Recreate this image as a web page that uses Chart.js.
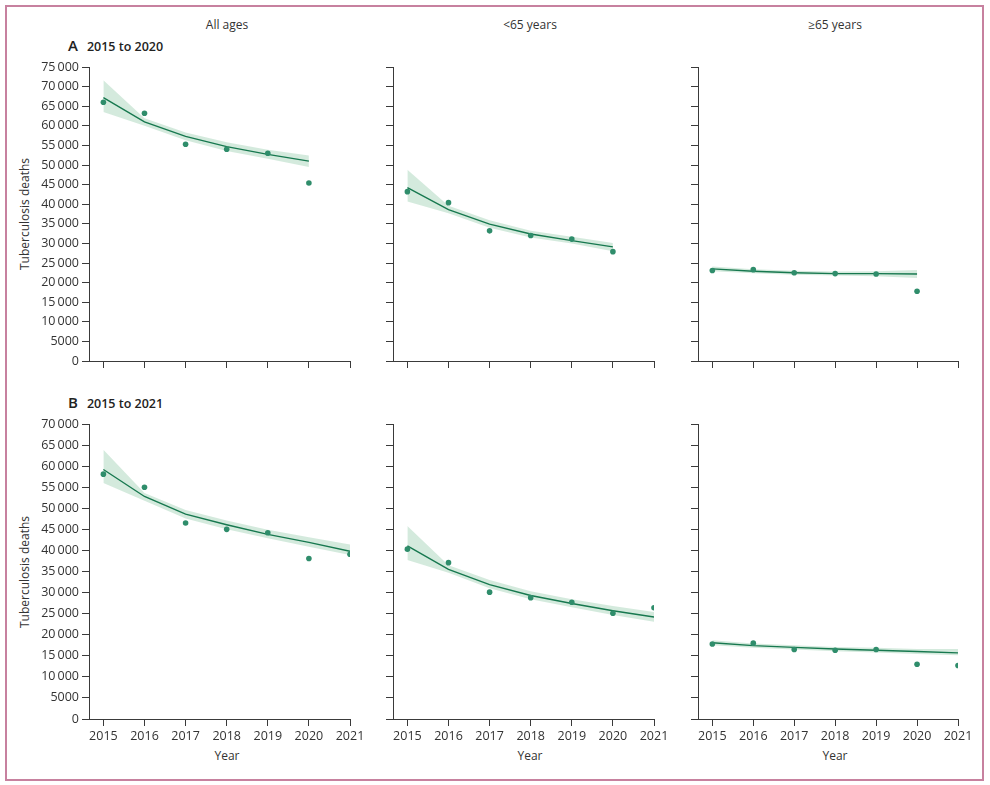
<!DOCTYPE html>
<html>
<head>
<meta charset="utf-8">
<script src="https://cdn.jsdelivr.net/npm/chart.js@4.4.1/dist/chart.umd.min.js"></script>
<style>
  html, body { margin:0; padding:0; background:#fff; }
  body { width:990px; height:785px; position:relative; overflow:hidden; font-family:'Open Sans', sans-serif; color:#333; }
  #frame { position:absolute; left:5px; top:5px; width:979px; height:776px; box-sizing:border-box; border:2px solid #c7819f; }
  .box { position:absolute; }
  .txt { position:absolute; white-space:nowrap; font-size:12px; color:#333; }
  .colhead { transform:translateX(-50%); }
  .ylab { transform:translate(-50%,-50%) rotate(-90deg); font-size:12px; }
  .panel { position:absolute; font-weight:600; font-size:12.5px; color:#222; }
  .panel b { font-size:15px; font-weight:600; margin-right:9px; }
</style>
</head>
<body>
<div id="frame"></div>

<div class="txt colhead" style="left:227px; top:16px;">All ages</div>
<div class="txt colhead" style="left:530px; top:16px;">&lt;65 years</div>
<div class="txt colhead" style="left:835px; top:16px;">≥65 years</div>

<div class="panel" style="left:68px; top:35px;"><b>A</b>2015 to 2020</div>
<div class="panel" style="left:68px; top:392px;"><b>B</b>2015 to 2021</div>

<div class="txt ylab" style="left:24px; top:214px;">Tuberculosis deaths</div>
<div class="txt ylab" style="left:24px; top:572px;">Tuberculosis deaths</div>

<div class="txt colhead" style="left:227px; top:747px;">Year</div>
<div class="txt colhead" style="left:530px; top:747px;">Year</div>
<div class="txt colhead" style="left:835px; top:747px;">Year</div>

<div id="charts"></div>

<script>
// ---------- data ----------
const yearsA = [2015, 2016, 2017, 2018, 2019, 2020];
const yearsB = [2015, 2016, 2017, 2018, 2019, 2020, 2021];
const xTickYears = [2015, 2016, 2017, 2018, 2019, 2020, 2021];
const yTicksA = [0, 5000, 10000, 15000, 20000, 25000, 30000, 35000, 40000, 45000, 50000, 55000, 60000, 65000, 70000, 75000];
const yTicksB = [0, 5000, 10000, 15000, 20000, 25000, 30000, 35000, 40000, 45000, 50000, 55000, 60000, 65000, 70000];

// Panel A: 2015 to 2020
const aAllObs = [66000, 63200, 55300, 54000, 53000, 45400];
const aAllFit = [67200, 61000, 57300, 54700, 52700, 51000];
const aAllLo  = [63500, 60000, 56300, 53600, 51600, 49500];
const aAllHi  = [71600, 61900, 58300, 55800, 53900, 52400];

const aU65Obs = [43200, 40400, 33200, 32000, 31100, 27900];
const aU65Fit = [44200, 38600, 34900, 32400, 30700, 29100];
const aU65Lo  = [40700, 37700, 34000, 31500, 30000, 28000];
const aU65Hi  = [48800, 39600, 35900, 33200, 31700, 30100];

const aO65Obs = [23100, 23300, 22500, 22300, 22200, 17800];
const aO65Fit = [23500, 22900, 22500, 22300, 22300, 22200];
const aO65Lo  = [22900, 22400, 22000, 21800, 21600, 21200];
const aO65Hi  = [24100, 23400, 23000, 22800, 22900, 23200];

// Panel B: 2015 to 2021
const bAllObs = [58100, 55000, 46500, 45000, 44200, 38100, 39100];
const bAllFit = [59200, 52800, 48600, 46100, 43800, 41900, 39800];
const bAllLo  = [56000, 51800, 47600, 45000, 42900, 40900, 38900];
const bAllHi  = [63900, 53600, 49600, 47100, 44900, 43100, 41400];

const bU65Obs = [40300, 37100, 30100, 28800, 27700, 25100, 26400];
const bU65Fit = [41100, 35500, 31900, 29300, 27400, 25700, 24200];
const bU65Lo  = [37700, 34700, 31000, 28400, 26500, 24700, 23100];
const bU65Hi  = [45800, 36500, 33000, 30300, 28400, 26800, 25400];

const bO65Obs = [17800, 18000, 16500, 16300, 16500, 13000, 12700];
const bO65Fit = [18100, 17400, 17000, 16600, 16300, 16000, 15700];
const bO65Lo  = [17500, 16900, 16500, 16100, 15800, 15400, 15100];
const bO65Hi  = [18700, 17900, 17500, 17100, 16900, 16600, 16600];

// ---------- styles ----------
const LINE = '#17784f';
const DOT = '#2f8d6b';
const BAND = 'rgba(120,190,150,0.32)';
const AXIS = '#3a3a3a';
const FONT = { family: "'Open Sans', sans-serif", size: 12.5 };

function fmt(v) {
  if (v >= 10000) {
    const s = String(v);
    return s.slice(0, s.length - 3) + '\u2009' + s.slice(s.length - 3);
  }
  return String(v);
}

function pts(xs, ys) { return xs.map((x, i) => ({ x: x, y: ys[i] })); }

const PADL = 70, PADT = 10, PADR = 24, PADB = 40;

function makePanel(cfg) {
  const w = cfg.right - cfg.left, h = cfg.bottom - cfg.top;
  const div = document.createElement('div');
  div.className = 'box';
  div.style.left = (cfg.left - PADL) + 'px';
  div.style.top = (cfg.top - PADT) + 'px';
  div.style.width = (w + PADL + PADR) + 'px';
  div.style.height = (h + PADT + PADB) + 'px';
  const cv = document.createElement('canvas');
  div.appendChild(cv);
  document.getElementById('charts').appendChild(div);

  new Chart(cv, {
    type: 'line',
    data: {
      datasets: [
        { data: pts(cfg.years, cfg.hi), borderWidth: 0, pointRadius: 0, backgroundColor: BAND, fill: '+1', order: 3 },
        { data: pts(cfg.years, cfg.lo), borderWidth: 0, pointRadius: 0, backgroundColor: BAND, fill: false, order: 3 },
        { data: pts(cfg.years, cfg.fit), borderColor: LINE, borderWidth: 1.4, pointRadius: 0, fill: false, tension: 0, order: 2 },
        { data: pts(cfg.years, cfg.obs), showLine: false, pointRadius: 2.8, pointBackgroundColor: DOT, pointBorderWidth: 0, order: 1 }
      ]
    },
    options: {
      responsive: true,
      maintainAspectRatio: false,
      animation: false,
      events: [],
      layout: { padding: { top: PADT, right: PADR, left: 0, bottom: 0 } },
      plugins: { legend: { display: false }, tooltip: { enabled: false } },
      scales: {
        x: {
          type: 'linear',
          min: 2014.65, max: 2021,
          afterBuildTicks: s => { s.ticks = xTickYears.map(v => ({ value: v })); },
          afterFit: s => { s.height = PADB; s.paddingRight = 0; s.paddingLeft = 0; },
          grid: { drawOnChartArea: false, drawTicks: true, tickLength: 7, tickColor: AXIS, lineWidth: 1 },
          border: { display: true, color: AXIS, width: 1 },
          ticks: { display: cfg.showX, color: '#333', font: FONT, padding: 3, maxRotation: 0, autoSkip: false, callback: v => String(v) }
        },
        y: {
          type: 'linear',
          min: 0, max: cfg.yTicks[cfg.yTicks.length - 1],
          afterBuildTicks: s => { s.ticks = cfg.yTicks.map(v => ({ value: v })); },
          afterFit: s => { s.width = PADL; s.paddingTop = 0; s.paddingBottom = 0; },
          grid: { drawOnChartArea: false, drawTicks: true, tickLength: 7, tickColor: AXIS, lineWidth: 1 },
          border: { display: true, color: AXIS, width: 1 },
          ticks: { display: cfg.showY, color: '#333', font: FONT, padding: 3, autoSkip: false, callback: v => fmt(v) }
        }
      }
    }
  });
}

const colsX = [[89, 350], [393, 654], [698, 958]];
const rowA = [67, 361], rowB = [424, 719];

const panels = [
  { col: 0, row: rowA, years: yearsA, obs: aAllObs, fit: aAllFit, lo: aAllLo, hi: aAllHi, yTicks: yTicksA, showX: false },
  { col: 1, row: rowA, years: yearsA, obs: aU65Obs, fit: aU65Fit, lo: aU65Lo, hi: aU65Hi, yTicks: yTicksA, showX: false },
  { col: 2, row: rowA, years: yearsA, obs: aO65Obs, fit: aO65Fit, lo: aO65Lo, hi: aO65Hi, yTicks: yTicksA, showX: false },
  { col: 0, row: rowB, years: yearsB, obs: bAllObs, fit: bAllFit, lo: bAllLo, hi: bAllHi, yTicks: yTicksB, showX: true },
  { col: 1, row: rowB, years: yearsB, obs: bU65Obs, fit: bU65Fit, lo: bU65Lo, hi: bU65Hi, yTicks: yTicksB, showX: true },
  { col: 2, row: rowB, years: yearsB, obs: bO65Obs, fit: bO65Fit, lo: bO65Lo, hi: bO65Hi, yTicks: yTicksB, showX: true }
];

panels.forEach(p => {
  makePanel({
    left: colsX[p.col][0], right: colsX[p.col][1], top: p.row[0], bottom: p.row[1],
    years: p.years, obs: p.obs, fit: p.fit, lo: p.lo, hi: p.hi,
    yTicks: p.yTicks, showX: p.showX, showY: p.col === 0
  });
});
</script>
</body>
</html>
